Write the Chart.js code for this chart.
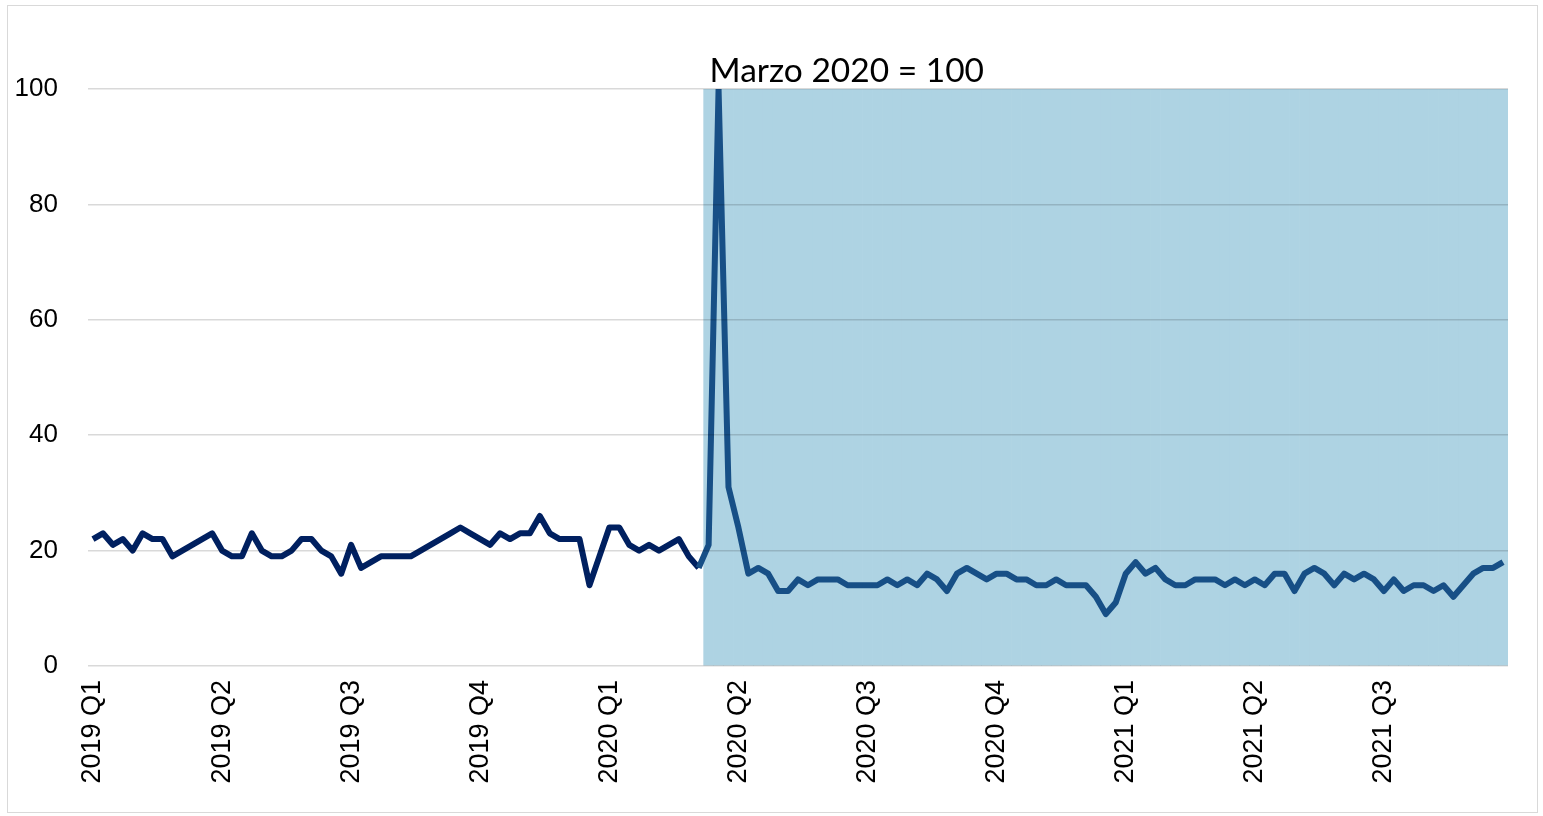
<!DOCTYPE html>
<html lang="es">
<head>
  <meta charset="UTF-8">
  <title>Marzo 2020 = 100</title>
  <script src="https://cdn.jsdelivr.net/npm/chart.js"></script>
  <style>
    body {
      margin: 0;
      padding: 0;
      background: #fff;
    }

    /* outer frame of the chart */
    .chart-box {
      position: absolute;
      left: 7px;
      top: 5px;
      width: 1529px;
      height: 806px;
      border: 1px solid #d9d9d9;
      background: #fff;
    }

    canvas {
      display: block;
    }
  </style>
</head>
<body>
  <div class="chart-box">
    <canvas id="chart" width="1529" height="806"></canvas>
  </div>

  <script>
    // Quarter labels, one every 13 weeks
    const quarterLabels = ['2019 Q1', '2019 Q2', '2019 Q3', '2019 Q4', '2020 Q1', '2020 Q2',
                           '2020 Q3', '2020 Q4', '2021 Q1', '2021 Q2', '2021 Q3'];
    const weeksPerQuarter = 13;

    // Weekly index (Marzo 2020 = 100)
    const weeklyValues = [
      22, 23, 21, 22, 20, 23, 22, 22, 19, 20, 21, 22, 23,
      20, 19, 19, 23, 20, 19, 19, 20, 22, 22, 20, 19, 16,
      21, 17, 18, 19, 19, 19, 19, 20, 21, 22, 23, 24, 23,
      22, 21, 23, 22, 23, 23, 26, 23, 22, 22, 22, 14, 19,
      24, 24, 21, 20, 21, 20, 21, 22, 19, 17, 21, 100, 31,
      24, 16, 17, 16, 13, 13, 15, 14, 15, 15, 15, 14, 14,
      14, 14, 15, 14, 15, 14, 16, 15, 13, 16, 17, 16, 15,
      16, 16, 15, 15, 14, 14, 15, 14, 14, 14, 12, 9, 11,
      16, 18, 16, 17, 15, 14, 14, 15, 15, 15, 14, 15, 14,
      15, 14, 16, 16, 13, 16, 17, 16, 14, 16, 15, 16, 15,
      13, 15, 13, 14, 14, 13, 14, 12, 14, 16, 17, 17, 18
    ];

    // Shaded period starts the week after the last pre-COVID week
    const shadeStart = 62;
    const shadeValue = 100;

    const annotationText = 'Marzo 2020 = 100';
    const peakIndex = weeklyValues.indexOf(100);

    // Build category labels: quarter name on the first week of each quarter
    const labels = weeklyValues.map((v, i) =>
      i % weeksPerQuarter === 0 ? (quarterLabels[i / weeksPerQuarter] || '') : '');
    const shadeData = weeklyValues.map((v, i) => i >= shadeStart ? shadeValue : null);

    // Draws the "Marzo 2020 = 100" note above the peak
    const notePlugin = {
      id: 'note',
      afterDraw(chart) {
        const ctx = chart.ctx;
        const x = chart.scales.x.getPixelForValue(peakIndex);
        const y = chart.scales.y.getPixelForValue(100);
        ctx.save();
        ctx.font = '33.5px Lato, "Open Sans", sans-serif';
        ctx.fillStyle = '#000';
        ctx.textAlign = 'left';
        ctx.textBaseline = 'alphabetic';
        ctx.fillText(annotationText, x - 9, y - 7);
        ctx.restore();
      }
    };

    const ctx = document.getElementById('chart').getContext('2d');
    new Chart(ctx, {
      type: 'bar',
      data: {
        labels: labels,
        datasets: [
          {
            type: 'bar',
            data: shadeData,
            backgroundColor: '#aed3e3',
            borderWidth: 0,
            categoryPercentage: 1,
            barPercentage: 1,
            order: 2
          },
          {
            type: 'line',
            data: weeklyValues,
            borderColor: '#002060',
            borderWidth: 6,
            pointRadius: 0,
            tension: 0,
            borderJoinStyle: 'round',
            fill: false,
            order: 1,
            segment: {
              // line looks lighter where it runs through the shaded period
              borderColor: c => c.p1DataIndex >= shadeStart ? '#174f86' : '#002060'
            }
          }
        ]
      },
      options: {
        responsive: false,
        animation: false,
        layout: {
          padding: { left: 0, right: 29, top: 83, bottom: 0 }
        },
        plugins: {
          legend: { display: false },
          tooltip: { enabled: false }
        },
        scales: {
          x: {
            grid: { display: false, drawTicks: false },
            border: { display: false },
            afterFit(scale) {
              scale.height = 146;
              scale.paddingLeft = 0;
              scale.paddingRight = 0;
            },
            ticks: {
              autoSkip: false,
              minRotation: 90,
              maxRotation: 90,
              padding: 14,
              color: '#000',
              font: { family: '"Liberation Sans", Arial, sans-serif', size: 27 }
            }
          },
          y: {
            min: 0,
            max: 100,
            grid: { color: 'rgba(0, 0, 0, 0.15)', lineWidth: 1.5, drawTicks: false, z: 1 },
            border: { display: false },
            afterFit(scale) { scale.width = 80; },
            ticks: {
              stepSize: 20,
              padding: 30,
              color: '#000',
              font: { family: '"Liberation Sans", Arial, sans-serif', size: 26 }
            }
          }
        }
      },
      plugins: [notePlugin]
    });
  </script>
</body>
</html>
